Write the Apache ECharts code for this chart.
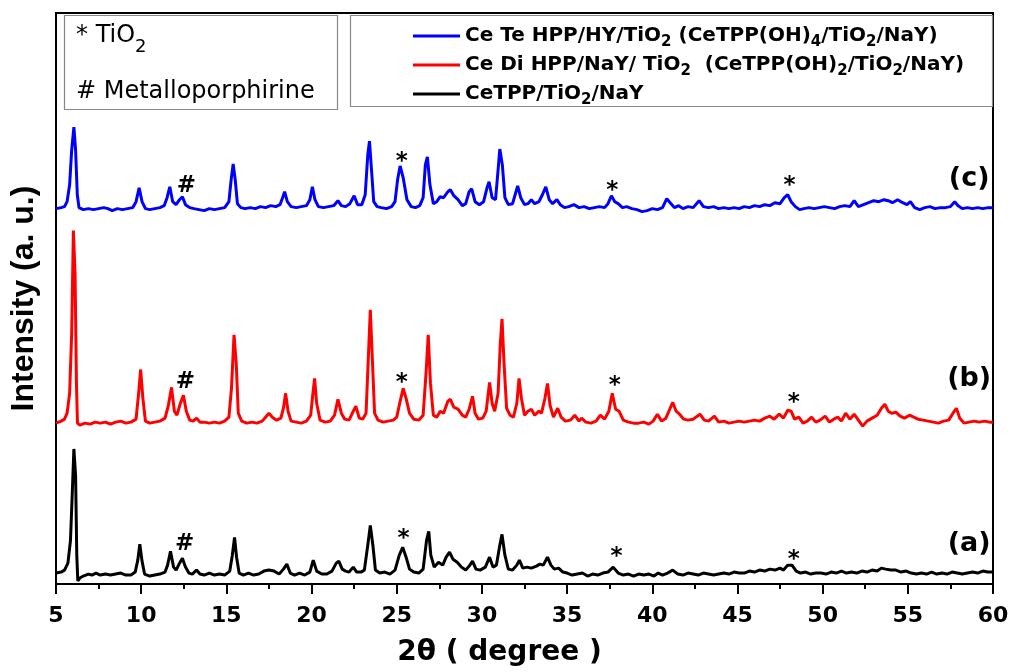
<!DOCTYPE html>
<html lang="en">
<head>
    <meta charset="UTF-8">
    <title>XRD patterns</title>
    <script src="https://cdn.jsdelivr.net/npm/echarts@6/dist/echarts.min.js"></script>
    <style>
        body { margin: 0; padding: 0; background: #fff; }
        #chart { width: 1013px; height: 672px; }
    </style>
</head>
<body>
<div id="chart"></div>
<script>
    // 2theta ticks
    const xTicks = [5, 10, 15, 20, 25, 30, 35, 40, 45, 50, 55, 60];

    // intensities above each trace's own baseline (a.u.)
    const traceA = [[5.0,2],[5.3,3],[5.5,5],[5.7,12],[5.85,35],[5.95,80],[6.05,127],[6.15,100],[6.22,20],[6.28,-6],[6.4,-3],[6.6,-1],[6.9,1],[7.1,0],[7.35,2],[7.6,0],[7.9,1],[8.2,0],[8.5,1],[8.8,2],[9.1,0],[9.4,0],[9.65,3],[9.8,15],[9.92,31],[10.05,14],[10.2,1],[10.5,-1],[10.8,0],[11.1,1],[11.4,3],[11.55,10],[11.72,24],[11.9,8],[12.05,5],[12.25,12],[12.42,17],[12.6,8],[12.8,2],[13.0,1],[13.25,5],[13.45,1],[13.7,0],[14.0,2],[14.3,0],[14.6,1],[14.9,0],[15.2,4],[15.35,20],[15.48,38],[15.6,18],[15.75,2],[16.0,0],[16.3,2],[16.6,0],[16.9,1],[17.2,4],[17.5,5],[17.8,4],[18.1,1],[18.35,6],[18.55,11],[18.75,2],[19.0,0],[19.3,2],[19.6,0],[19.9,3],[20.1,15],[20.3,4],[20.6,1],[20.9,1],[21.2,4],[21.45,12],[21.6,14],[21.8,6],[22.0,4],[22.2,3],[22.45,8],[22.65,3],[22.9,3],[23.1,5],[23.3,30],[23.45,50],[23.6,30],[23.75,5],[24.0,2],[24.3,3],[24.6,1],[24.9,5],[25.15,20],[25.35,28],[25.55,18],[25.75,6],[26.0,3],[26.3,2],[26.55,6],[26.75,35],[26.88,44],[27.0,20],[27.2,8],[27.45,13],[27.7,10],[27.9,18],[28.1,23],[28.3,16],[28.55,13],[28.8,8],[29.05,5],[29.25,9],[29.45,14],[29.65,6],[29.9,5],[30.2,8],[30.45,18],[30.65,8],[30.85,10],[31.05,30],[31.18,41],[31.35,20],[31.55,6],[31.8,5],[32.05,10],[32.2,15],[32.4,7],[32.65,8],[32.9,7],[33.2,9],[33.4,11],[33.6,10],[33.85,18],[34.05,10],[34.25,6],[34.5,7],[34.75,3],[35.0,2],[35.3,0],[35.6,1],[35.9,2],[36.2,-1],[36.5,1],[36.8,0],[37.1,2],[37.4,3],[37.7,8],[38.0,2],[38.3,0],[38.6,1],[38.9,-1],[39.2,1],[39.5,0],[39.8,1],[40.1,-1],[40.35,2],[40.6,0],[40.9,2],[41.2,5],[41.5,1],[41.8,0],[42.1,2],[42.4,1],[42.7,0],[43.0,2],[43.3,1],[43.6,0],[43.9,1],[44.2,2],[44.5,1],[44.8,3],[45.1,2],[45.4,2],[45.7,4],[46.0,3],[46.3,5],[46.6,4],[46.9,6],[47.2,5],[47.5,7],[47.7,5],[47.95,10],[48.2,10],[48.45,4],[48.7,2],[49.0,3],[49.3,1],[49.6,2],[49.9,2],[50.2,1],[50.5,3],[50.8,2],[51.1,4],[51.4,2],[51.7,3],[52.0,2],[52.3,4],[52.6,3],[52.9,5],[53.2,4],[53.45,7],[53.7,6],[54.0,5],[54.3,5],[54.6,3],[54.9,4],[55.2,2],[55.5,1],[55.8,2],[56.1,1],[56.4,3],[56.7,1],[57.0,2],[57.3,1],[57.6,3],[57.9,2],[58.2,1],[58.5,2],[58.8,3],[59.1,2],[59.4,4],[59.7,3],[60.0,3]];

    const traceB = [[5.0,0],[5.3,2],[5.5,4],[5.65,10],[5.8,30],[5.92,90],[6.02,194],[6.12,150],[6.2,40],[6.26,0],[6.4,-2],[6.7,0],[7.0,-1],[7.3,1],[7.6,0],[7.9,1],[8.2,-1],[8.5,1],[8.8,2],[9.1,0],[9.4,1],[9.7,4],[9.85,30],[9.97,54],[10.1,25],[10.25,2],[10.5,0],[10.8,1],[11.1,2],[11.4,5],[11.6,18],[11.78,36],[11.95,12],[12.1,8],[12.3,20],[12.48,28],[12.65,12],[12.85,3],[13.05,2],[13.25,5],[13.45,1],[13.7,1],[14.0,0],[14.3,1],[14.6,0],[14.9,2],[15.15,6],[15.3,35],[15.45,89],[15.58,60],[15.7,10],[15.9,2],[16.2,0],[16.5,1],[16.8,0],[17.1,2],[17.3,6],[17.5,10],[17.7,6],[17.95,3],[18.2,5],[18.35,15],[18.48,30],[18.62,12],[18.8,2],[19.1,1],[19.4,0],[19.7,2],[19.95,8],[20.08,30],[20.18,45],[20.3,20],[20.5,3],[20.8,1],[21.1,2],[21.35,8],[21.55,24],[21.75,10],[21.95,4],[22.2,3],[22.45,12],[22.6,17],[22.8,5],[23.0,4],[23.2,10],[23.32,60],[23.45,114],[23.58,60],[23.7,10],[23.9,3],[24.2,1],[24.5,2],[24.8,3],[25.0,6],[25.2,22],[25.38,35],[25.55,25],[25.75,10],[26.0,4],[26.3,3],[26.55,8],[26.72,50],[26.85,89],[26.98,40],[27.15,8],[27.35,6],[27.55,12],[27.75,10],[28.0,22],[28.15,24],[28.35,16],[28.6,14],[28.85,8],[29.05,6],[29.25,14],[29.45,27],[29.6,10],[29.8,4],[30.05,5],[30.25,12],[30.45,41],[30.6,20],[30.75,12],[30.95,30],[31.08,80],[31.18,105],[31.3,60],[31.45,15],[31.65,8],[31.85,6],[32.05,20],[32.18,45],[32.32,25],[32.5,8],[32.7,12],[32.9,14],[33.1,8],[33.35,12],[33.5,10],[33.7,25],[33.85,40],[34.0,18],[34.2,6],[34.45,15],[34.65,6],[34.9,2],[35.2,3],[35.45,8],[35.7,2],[35.85,5],[36.1,1],[36.4,0],[36.7,2],[36.95,8],[37.2,4],[37.45,12],[37.65,30],[37.85,14],[38.05,12],[38.3,3],[38.6,1],[38.9,0],[39.2,0],[39.5,1],[39.8,-1],[40.05,2],[40.3,9],[40.55,2],[40.8,5],[41.05,15],[41.2,21],[41.4,12],[41.6,9],[41.85,4],[42.1,3],[42.4,4],[42.8,9],[43.05,3],[43.3,2],[43.65,7],[43.9,1],[44.2,2],[44.5,0],[44.8,1],[45.1,2],[45.4,1],[45.7,2],[46.0,3],[46.3,2],[46.6,5],[46.9,7],[47.15,4],[47.45,9],[47.7,5],[47.95,13],[48.15,12],[48.35,4],[48.6,6],[48.85,0],[49.1,2],[49.35,6],[49.6,1],[49.85,3],[50.15,7],[50.4,1],[50.65,4],[50.9,6],[51.1,2],[51.35,10],[51.6,4],[51.85,9],[52.1,3],[52.35,-3],[52.6,2],[52.9,5],[53.2,8],[53.45,15],[53.65,19],[53.85,12],[54.05,10],[54.3,11],[54.55,7],[54.8,5],[55.1,8],[55.35,6],[55.6,4],[55.9,3],[56.2,2],[56.5,1],[56.8,0],[57.1,2],[57.4,3],[57.65,10],[57.85,15],[58.05,5],[58.3,0],[58.6,1],[58.9,2],[59.2,1],[59.5,2],[59.8,1],[60.0,1]];

    const traceC = [[5.0,1],[5.3,2],[5.5,3],[5.65,8],[5.8,25],[5.92,60],[6.05,83],[6.15,60],[6.25,15],[6.35,2],[6.6,0],[6.9,1],[7.2,0],[7.5,1],[7.8,2],[8.05,1],[8.3,-1],[8.6,1],[8.9,0],[9.2,1],[9.5,2],[9.7,8],[9.88,22],[10.05,8],[10.25,1],[10.5,0],[10.8,1],[11.1,2],[11.35,4],[11.52,12],[11.68,23],[11.85,8],[12.05,5],[12.25,10],[12.42,13],[12.6,5],[12.85,2],[13.1,1],[13.4,0],[13.7,-1],[14.0,1],[14.3,0],[14.6,1],[14.9,2],[15.15,8],[15.28,30],[15.4,46],[15.52,30],[15.65,6],[15.85,2],[16.1,1],[16.4,2],[16.7,1],[17.0,3],[17.3,2],[17.6,4],[17.9,3],[18.15,5],[18.3,12],[18.42,18],[18.58,8],[18.8,3],[19.1,2],[19.4,3],[19.7,4],[19.9,10],[20.05,23],[20.2,10],[20.4,3],[20.7,2],[21.0,3],[21.3,4],[21.55,9],[21.75,4],[22.0,3],[22.25,6],[22.5,14],[22.7,5],[22.95,5],[23.15,15],[23.3,55],[23.4,69],[23.52,40],[23.65,8],[23.85,3],[24.1,2],[24.4,1],[24.7,3],[24.9,8],[25.05,30],[25.2,44],[25.38,32],[25.6,10],[25.85,3],[26.1,2],[26.35,4],[26.55,12],[26.68,45],[26.8,53],[26.95,25],[27.15,6],[27.35,8],[27.55,13],[27.75,12],[28.0,18],[28.15,20],[28.35,14],[28.6,10],[28.85,4],[29.05,6],[29.25,18],[29.4,21],[29.6,8],[29.85,5],[30.1,8],[30.3,22],[30.42,28],[30.6,12],[30.8,10],[30.95,40],[31.05,61],[31.2,45],[31.35,12],[31.55,5],[31.8,6],[31.95,15],[32.1,24],[32.28,12],[32.5,5],[32.7,6],[32.9,10],[33.1,6],[33.35,8],[33.55,15],[33.75,23],[33.95,10],[34.15,6],[34.4,10],[34.6,5],[34.85,2],[35.1,3],[35.4,5],[35.7,2],[36.0,3],[36.3,1],[36.6,2],[36.9,3],[37.2,2],[37.4,6],[37.6,14],[37.8,8],[38.0,6],[38.25,2],[38.5,3],[38.8,1],[39.1,0],[39.4,-2],[39.7,-1],[40.0,1],[40.3,0],[40.6,2],[40.85,11],[41.05,7],[41.3,2],[41.55,4],[41.8,1],[42.1,3],[42.4,2],[42.75,9],[43.0,3],[43.3,2],[43.6,3],[43.9,1],[44.2,2],[44.5,1],[44.8,2],[45.1,1],[45.4,3],[45.7,2],[46.0,4],[46.3,3],[46.6,5],[46.9,4],[47.2,7],[47.5,6],[47.75,12],[47.95,15],[48.15,8],[48.4,3],[48.65,0],[48.9,1],[49.2,2],[49.5,1],[49.8,2],[50.1,3],[50.4,2],[50.7,1],[51.0,3],[51.3,4],[51.6,3],[51.85,9],[52.1,3],[52.4,5],[52.7,7],[53.0,9],[53.3,8],[53.6,10],[53.85,9],[54.1,7],[54.4,10],[54.7,7],[54.95,5],[55.15,8],[55.4,2],[55.7,0],[56.0,2],[56.3,3],[56.6,1],[56.9,2],[57.2,2],[57.5,3],[57.75,8],[57.95,4],[58.2,1],[58.5,2],[58.8,1],[59.1,2],[59.4,1],[59.7,2],[60.0,2]];

    // vertical stacking offsets of (a), (b), (c)
    const offsets = [9, 162, 377];

    // peak marks: [2theta, height above baseline, text]
    const marksA = [[12.55, 31, '#'], [25.4, 36, '*'], [37.9, 18, '*'], [48.3, 15, '*'], [58.6, 31, '(a)']];
    const marksB = [[12.6, 41, '#'], [25.3, 40, '*'], [37.8, 37, '*'], [48.3, 20, '*'], [58.6, 44, '(b)']];
    const marksC = [[12.65, 24, '#'], [25.3, 48, '*'], [37.65, 19, '*'], [48.05, 24, '*'], [58.6, 31, '(c)']];

    const names = [
        'Ce Te HPP/HY/TiO2 (CeTPP(OH)4/TiO2/NaY)',
        'Ce Di HPP/NaY/ TiO2  (CeTPP(OH)2/TiO2/NaY)',
        'CeTPP/TiO2/NaY'
    ];
    const legendRich = [
        '{b|Ce Te HPP/HY/TiO}{s|2}{b| (CeTPP(OH)}{s|4}{b|/TiO}{s|2}{b|/NaY)}',
        '{b|Ce Di HPP/NaY/ TiO}{s|2}{b|  (CeTPP(OH)}{s|2}{b|/TiO}{s|2}{b|/NaY)}',
        '{b|CeTPP/TiO}{s|2}{b|/NaY}'
    ];
    const colors = ['#0000ff', '#ff0000', '#000000'];

    const chart = echarts.init(document.getElementById('chart'));
    const font = 'DejaVu Sans';

    function shift(trace, off) {
        return trace.map(p => [p[0], p[1] + off]);
    }
    function markSeries(marks, off) {
        return {
            type: 'scatter',
            data: marks.map(m => [m[0], m[1] + off, m[2]]),
            symbolSize: 1,
            itemStyle: { color: 'rgba(0,0,0,0)', opacity: 1 },
            silent: true,
            z: 5,
            label: {
                show: true,
                position: 'inside',
                formatter: p => p.data[2].length > 1 ? '{big|' + p.data[2] + '}' : '{sym|' + p.data[2] + '}',
                rich: {
                    sym: { fontFamily: font, fontWeight: 'bold', fontSize: 23, color: '#000' },
                    big: { fontFamily: font, fontWeight: 'bold', fontSize: 27, color: '#000' }
                }
            }
        };
    }

    const lines = [traceC, traceB, traceA];
    const lineOffsets = [offsets[2], offsets[1], offsets[0]];

    const option = {
        animation: false,
        grid: {
            left: 55, right: 20, top: 13, bottom: 84,
            show: true, borderColor: '#000', borderWidth: 2
        },
        legend: {
            orient: 'vertical',
            left: 408,
            top: 21,
            itemWidth: 47,
            itemHeight: 3,
            itemGap: 5,
            icon: 'rect',
            data: names,
            formatter: name => legendRich[names.indexOf(name)],
            textStyle: {
                rich: {
                    b: { fontFamily: font, fontWeight: 'bold', fontSize: 20, color: '#000', lineHeight: 22 },
                    s: { fontFamily: font, fontWeight: 'bold', fontSize: 15, color: '#000', lineHeight: 12, verticalAlign: 'bottom', padding: [0, 0, -3, 0] }
                }
            }
        },
        xAxis: {
            type: 'value',
            min: 5, max: 60, interval: 5,
            name: '2\u03b8 ( degree )',
            nameLocation: 'middle',
            nameGap: 55,
            nameTextStyle: { fontFamily: font, fontWeight: 'bold', fontSize: 28, color: '#000', padding: [0, 50, 0, 0] },
            axisLine: { lineStyle: { color: '#000', width: 2 } },
            axisTick: { length: 10, lineStyle: { width: 2, color: '#000' } },
            minorTick: { show: true, splitNumber: 2, length: 5, lineStyle: { width: 2, color: '#000' } },
            splitLine: { show: false },
            axisLabel: {
                margin: 21,
                fontFamily: font, fontWeight: 'bold', fontSize: 22, color: '#000',
                formatter: v => xTicks.includes(v) ? String(v) : ''
            }
        },
        yAxis: {
            type: 'value',
            min: 0, max: 575,
            name: 'Intensity (a. u.)',
            nameLocation: 'middle',
            nameRotate: 90,
            nameGap: 16,
            nameTextStyle: { fontFamily: 'Liberation Sans', fontWeight: 'bold', fontSize: 32, color: '#000' },
            axisLine: { show: true, lineStyle: { color: '#000', width: 2 } },
            axisTick: { show: false },
            axisLabel: { show: false },
            splitLine: { show: false }
        },
        graphic: [
            {
                type: 'rect', left: 62, top: 13, z: 10,
                shape: { width: 273, height: 94 },
                style: { fill: 'none', stroke: '#888', lineWidth: 1.2 }
            },
            {
                type: 'rect', left: 348, top: 13, z: 10,
                shape: { width: 642, height: 91 },
                style: { fill: 'none', stroke: '#888', lineWidth: 1.2 }
            },
            {
                type: 'text', left: 76, top: 24, z: 10,
                style: {
                    text: '{n|* TiO}{s|2}',
                    rich: {
                        n: { fontFamily: font, fontSize: 24, color: '#000', lineHeight: 28 },
                        s: { fontFamily: font, fontSize: 18, color: '#000', lineHeight: 14, verticalAlign: 'bottom', padding: [0, 0, -6, 0] }
                    }
                }
            },
            {
                type: 'text', left: 76, top: 80, z: 10,
                style: { text: '# Metalloporphirine', fontFamily: font, fontSize: 24, fill: '#000' }
            }
        ],
        series: [
            ...lines.map((t, i) => ({
                name: names[i],
                type: 'line',
                data: shift(t, lineOffsets[i]),
                showSymbol: false,
                color: colors[i],
                lineStyle: { width: 3, color: colors[i] },
                z: 3
            })),
            ...[marksA, marksB, marksC].map((m, i) => markSeries(m, offsets[i]))
        ]
    };
    chart.setOption(option);
</script>
</body>
</html>
